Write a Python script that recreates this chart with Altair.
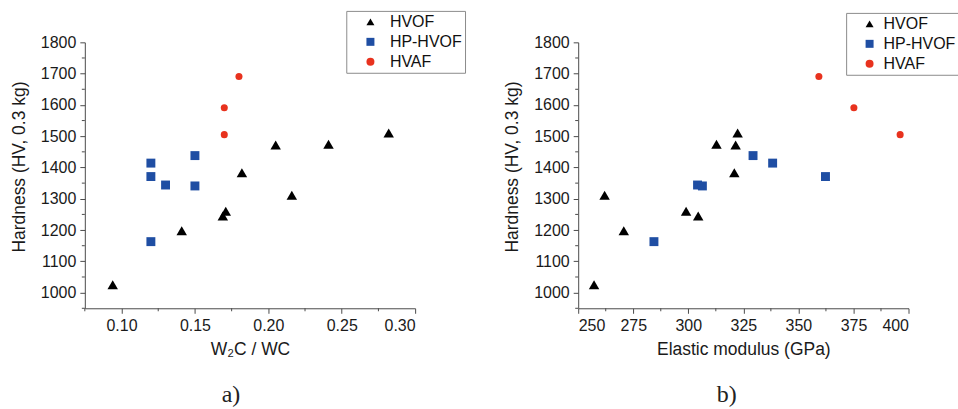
import altair as alt
import pandas as pd

groups = ["HVOF", "HP-HVOF", "HVAF"]
colors = ["#000000", "#1f4ea3", "#e8321e"]
shapes = ["triangle-up", "square", "circle"]
sizes = [110, 50, 70]

hvof_hard = [1025, 1198, 1245, 1260, 1383, 1472, 1311, 1474, 1510]
hvof_ratio = [0.094, 0.141, 0.169, 0.171, 0.182, 0.205, 0.216, 0.241, 0.282]
hvof_mod = [257.2, 270.7, 304.5, 299.0, 320.9, 321.5, 262.0, 312.8, 322.4]

hp_hard = [1414, 1371, 1163, 1344, 1438, 1341]
hp_ratio = [0.12, 0.12, 0.12, 0.13, 0.15, 0.15]
hp_mod = [338.3, 362.3, 284.4, 304.2, 329.4, 306.4]

hvaf_hard = [1691, 1591, 1505]
hvaf_ratio = [0.180, 0.170, 0.170]
hvaf_mod = [359.3, 375.2, 396.2]

y_major = [1000, 1100, 1200, 1300, 1400, 1500, 1600, 1700, 1800]
y_minor = [950, 1050, 1150, 1250, 1350, 1450, 1550, 1650, 1750]
xa_major = [0.10, 0.15, 0.20, 0.25, 0.30]
xa_minor = [0.075, 0.125, 0.175, 0.225, 0.275]
xb_major = [250, 275, 300, 325, 350, 375, 400]
xb_minor = [262.5, 287.5, 312.5, 337.5, 362.5, 387.5]

rows = []
for g, hs, rs, ms in [("HVOF", hvof_hard, hvof_ratio, hvof_mod),
                      ("HP-HVOF", hp_hard, hp_ratio, hp_mod),
                      ("HVAF", hvaf_hard, hvaf_ratio, hvaf_mod)]:
    for h, r, m in zip(hs, rs, ms):
        rows.append({"group": g, "hardness": h, "ratio": r, "modulus": m})
df = pd.DataFrame(rows)

FONT = "Liberation Sans"
SERIF = "Liberation Serif"
AXC = "#4a4a4a"
W, H = 331, 266.5

ydom = [950, 1800]


def legend(lx, ly, sym_off, lab_off):
    return alt.Legend(orient="none", legendX=lx, legendY=ly, title=None,
                      strokeColor="#8c8c8c", fillColor="white", padding=3,
                      symbolOffset=sym_off, labelOffset=lab_off, rowPadding=4,
                      labelFont=FONT, labelFontSize=16, labelColor="#111111",
                      symbolSize=64, symbolStrokeWidth=0)


def panel(xfield, xdom, xmajor, xminor, xfmt, xtitle, lg, caption, cdx):
    yaxis = alt.Axis(values=y_major, format="d", title="Hardness (HV, 0.3 kg)",
                     grid=False, tickSize=5, labelPadding=4, titlePadding=12,
                     titleY=124.5, labelOverlap=False)
    xaxis = alt.Axis(values=xmajor, format=xfmt, title=xtitle, grid=False,
                     tickSize=5, labelPadding=4, titlePadding=7,
                     labelOverlap=False)
    xscale = alt.Scale(domain=xdom, nice=False, zero=False)
    yscale = alt.Scale(domain=ydom, nice=False, zero=False)
    pts = alt.Chart(df).mark_point(filled=True, opacity=1, strokeWidth=0).encode(
        x=alt.X(f"{xfield}:Q", scale=xscale, axis=xaxis),
        y=alt.Y("hardness:Q", scale=yscale, axis=yaxis),
        color=alt.Color("group:N", scale=alt.Scale(domain=groups, range=colors), legend=lg),
        shape=alt.Shape("group:N", scale=alt.Scale(domain=groups, range=shapes), legend=lg),
        size=alt.Size("group:N", scale=alt.Scale(domain=groups, range=sizes), legend=None),
    )
    ymin = alt.Chart(pd.DataFrame({"v": y_minor})).mark_rule(color=AXC, strokeWidth=1).encode(
        y=alt.Y("v:Q", scale=yscale, axis=yaxis),
        x=alt.value(0), x2=alt.value(-3),
    )
    xmin = alt.Chart(pd.DataFrame({"v": xminor})).mark_rule(color=AXC, strokeWidth=1).encode(
        x=alt.X("v:Q", scale=xscale, axis=xaxis),
        y=alt.value(H), y2=alt.value(H + 3),
    )
    return alt.layer(pts, ymin, xmin).properties(
        width=W, height=H,
        title=alt.TitleParams(caption, orient="bottom", anchor="middle", frame="group",
                              font=SERIF, fontSize=24, fontWeight="normal",
                              color="#222222", offset=25, dx=cdx),
    )


pa = panel("ratio", [0.075, 0.30], xa_major, xa_minor, ".2f", "W₂C / WC",
           legend(262, -31.5, 13.2, 11.5), "a)", -19)
pb = panel("modulus", [250, 400], xb_major, xb_minor, "d", "Elastic modulus (GPa)",
           legend(268.5, -29.5, 12.5, 6), "b)", -16.6)

chart = alt.hconcat(pa, pb, spacing=163.4, bounds="flush").resolve_legend(
    color="independent", shape="independent"
).configure_view(stroke=None).configure_axis(
    labelFont=FONT, labelFontSize=16, labelColor="#1a1a1a",
    titleFont=FONT, titleFontSize=17.5, titleFontWeight="normal", titleColor="#1a1a1a",
    domainColor=AXC, tickColor=AXC, domainWidth=1, tickWidth=1,
).properties(
    padding={"left": 10, "top": 10, "right": -2, "bottom": 0},
    background="white",
)

chart.save("out.html", embed_options={"renderer": "svg", "actions": False})
